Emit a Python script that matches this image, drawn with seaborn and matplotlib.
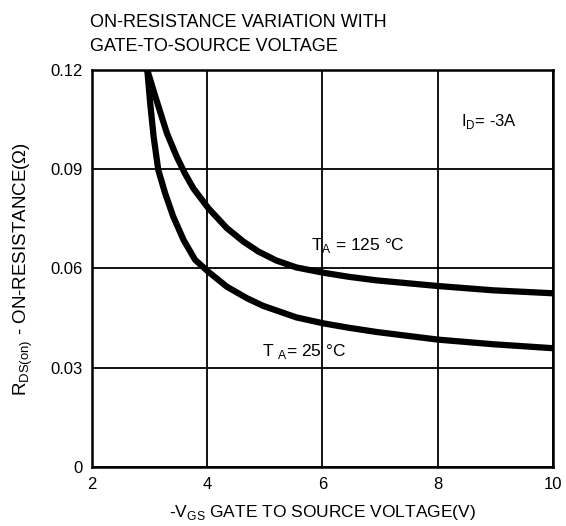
import numpy as np
import pandas as pd
import matplotlib.pyplot as plt
import seaborn as sns

# 数据
vgs_125 = [2.96, 3.09, 3.30, 3.47, 3.61, 3.76, 4.02, 4.34, 4.63, 4.89, 5.20, 5.55, 6.02, 6.45, 6.94, 8.0, 8.96, 10.0]
rds_125 = [0.120, 0.1125, 0.1009, 0.0938, 0.0888, 0.0842, 0.0782, 0.0722, 0.0681, 0.0651, 0.0624, 0.0603, 0.0587, 0.0575, 0.0564, 0.0547, 0.0534, 0.0525]
vgs_25 = [2.96, 3.01, 3.07, 3.15, 3.27, 3.41, 3.59, 3.79, 4.02, 4.34, 4.69, 4.97, 5.55, 6.02, 6.45, 6.94, 8.0, 8.96, 10.0]
rds_25 = [0.120, 0.110, 0.0998, 0.0898, 0.0827, 0.0757, 0.0686, 0.0626, 0.0590, 0.0545, 0.0510, 0.0487, 0.0452, 0.0434, 0.0421, 0.0408, 0.0385, 0.0371, 0.0359]
x_ticks = [2, 4, 6, 8, 10]
y_ticks = [0, 0.03, 0.06, 0.09, 0.12]

sns.set_style("white")
plt.rcParams['font.family'] = ['Liberation Sans', 'DejaVu Sans']
plt.rcParams['text.color'] = 'black'
plt.rcParams['axes.labelcolor'] = 'black'
plt.rcParams['mathtext.fontset'] = 'custom'
plt.rcParams['mathtext.rm'] = 'Liberation Sans'

df = pd.concat([
    pd.DataFrame({"vgs": vgs_125, "rds": rds_125, "temp": "125"}),
    pd.DataFrame({"vgs": vgs_25, "rds": rds_25, "temp": "25"}),
])

fig = plt.figure(figsize=(5.66, 5.26), dpi=100)
ax = fig.add_axes([0.1625, 0.1122, 0.8145, 0.7548])
sns.lineplot(data=df, x="vgs", y="rds", units="temp", estimator=None,
             color="black", lw=4.5, ax=ax, legend=False,
             solid_joinstyle="round", solid_capstyle="round")

ax.set_xlim(2, 10)
ax.set_ylim(0, 0.12)
ax.set_xticks(x_ticks)
ax.set_yticks(y_ticks)
ax.set_xticklabels([str(t) for t in x_ticks])
ax.set_yticklabels(["0", "0.03", "0.06", "0.09", "0.12"])
ax.grid(True, color="black", lw=1.3)
ax.tick_params(length=0, labelsize=12, colors="black", pad=7)
for s in ax.spines.values():
    s.set_color("black")
    s.set_linewidth(1.8)

ax.set_xlabel(r"-V$_{\mathrm{GS}}$ GATE TO SOURCE VOLTAGE(V)", fontsize=12.5, labelpad=8)
ax.set_ylabel(r"R$_{\mathrm{DS(on)}}$ - ON-RESISTANCE($\Omega$)", fontsize=13.5, labelpad=11)

fig.text(0.159, 0.958, "ON-RESISTANCE VARIATION WITH", fontsize=13, va="center")
fig.text(0.159, 0.912, "GATE-TO-SOURCE VOLTAGE", fontsize=13, va="center")

ax.text(5.8, 0.0655, r"T$_{\mathrm{A}}$ = 125 °C", fontsize=12.5)
ax.text(4.95, 0.0335, r"T $_{\mathrm{A}}$= 25 °C", fontsize=12.5)
ax.text(8.4, 0.103, r"I$_{\mathrm{D}}$= -3A", fontsize=12)

plt.savefig("out.png", dpi=100)
